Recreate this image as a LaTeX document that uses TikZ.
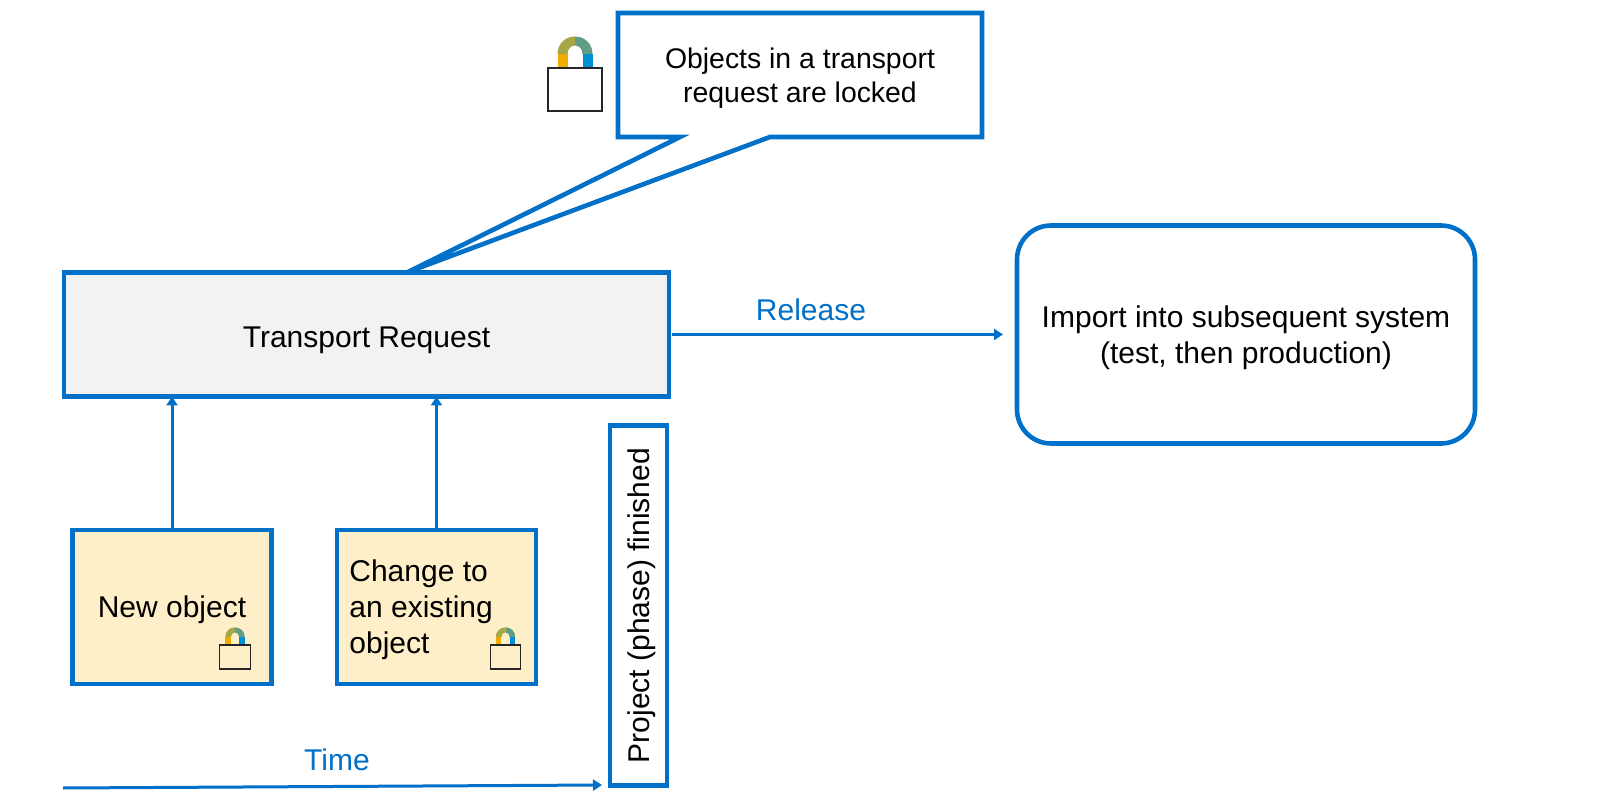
\documentclass[tikz,border=0pt]{standalone}
\usepackage{fontspec}
\setmainfont{Liberation Sans}
\usepackage{xcolor}
\usetikzlibrary{arrows.meta,positioning}
\definecolor{sapblue}{HTML}{0070C9}
\definecolor{boxgray}{HTML}{F2F2F2}
\definecolor{boxyellow}{HTML}{FEEFC8}
\definecolor{lockorange}{HTML}{F0AB00}
\definecolor{lockolive}{HTML}{A5A845}
\definecolor{lockgreen}{HTML}{5F9E82}
\definecolor{lockblue}{HTML}{008FD3}

\begin{document}
\begin{tikzpicture}[x=0.5pt,y=-0.5pt]
  \tikzset{bluebox/.style = {shape=rectangle,draw=sapblue,line width=2.3pt,outer sep=0pt,inner sep=0pt,font=\fontsize{15}{18}\selectfont,align=center,text depth=0pt}}
  \tikzset{graybox/.style = {bluebox,fill=boxgray}}
  \tikzset{yellowbox/.style = {bluebox,fill=boxyellow,minimum width=99.5pt,minimum height=77pt}}
  \tikzset{roundbox/.style = {bluebox,rounded corners=17pt}}
  \tikzset{flow/.style = {draw=sapblue,line width=1.5pt,-{Triangle[length=4.5pt,width=5.5pt]}}}
  \tikzset{bluelabel/.style = {text=sapblue,font=\fontsize{15}{18}\selectfont}}
  \tikzset{lock/.pic = {
    \fill[lockorange] (-17.5,-14) -- (-7.5,-14) -- (-7.5,-1) -- (-17.5,-1) -- cycle;
    \fill[lockblue] (7.5,-14) -- (17.5,-14) -- (17.5,-1) -- (7.5,-1) -- cycle;
    \fill[lockolive] (-17.5,-14) .. controls (-17.5,-24) and (-10,-31.5) .. (0,-31.5) -- (0,-22.5) .. controls (-4,-22.5) and (-7.5,-19) .. (-7.5,-14) -- cycle;
    \fill[lockgreen] (17.5,-14) .. controls (17.5,-24) and (10,-31.5) .. (0,-31.5) -- (0,-22.5) .. controls (4,-22.5) and (7.5,-19) .. (7.5,-14) -- cycle;
    \draw[black!85,line width=0.6pt] (-27,0) rectangle (27,43);
  }}

  \useasboundingbox (0,0) rectangle (1600,801);

  \node[graybox,minimum width=302.5pt,minimum height=62pt,text height=12.9pt] (request) at (366.5,334.5) {Transport Request};
  \node[roundbox,minimum width=229pt,minimum height=109pt] (import) at (1246,334.5) {Import into subsequent system\\(test, then production)};

  % callout with its tail
  \node[minimum width=182pt,minimum height=62pt,outer sep=0pt,inner sep=0pt] (lockedbox) at (800,75) {};
  \coordinate (tailtip) at (408,272);
  \coordinate (tailleft) at (680,137);
  \coordinate (tailright) at (770,137);
  \draw[draw=sapblue,fill=white,line width=2.3pt] (lockedbox.north west) -- (lockedbox.north east) -- (lockedbox.south east) -- (tailright) -- (tailtip) -- (tailleft) -- (lockedbox.south west) -- cycle;
  \node[align=center,text depth=0pt,font=\fontsize{14.2}{16.8}\selectfont] (locked) at (lockedbox) {Objects in a transport\\request are locked};

  \node[yellowbox] (newobj) at (172,607) {New object};
  \node[yellowbox] (changeobj) at (436.5,607) {};
  \node[right=6pt of changeobj.west,inner sep=0pt,align=left,text depth=0pt,font=\fontsize{15}{18}\selectfont] (changetext) {Change to\\an existing\\object};
  \node[bluebox,minimum width=180pt,minimum height=28.5pt,rotate=90] (finished) at (638.5,605.5) {Project (phase) finished};

  \pic at (575,68) {lock};
  \pic[scale=0.56] at (235,645) {lock};
  \pic[scale=0.56] at (505.5,645) {lock};

  \foreach \from in {newobj, changeobj}
  \draw[flow] (\from.north) -- (\from.north |- request.south);

  \coordinate (timestart) at (63,788);
  \coordinate (timeend) at (602,785);
  \draw[flow] (timestart) -- (timeend);
  \draw[flow,shorten <=1.5pt,shorten >=7pt] (request) -- (import);

  \node[bluelabel] (releaselabel) at (811,310) {Release};
  \node[bluelabel] (timelabel) at (337,760) {Time};
\end{tikzpicture}
\end{document}
